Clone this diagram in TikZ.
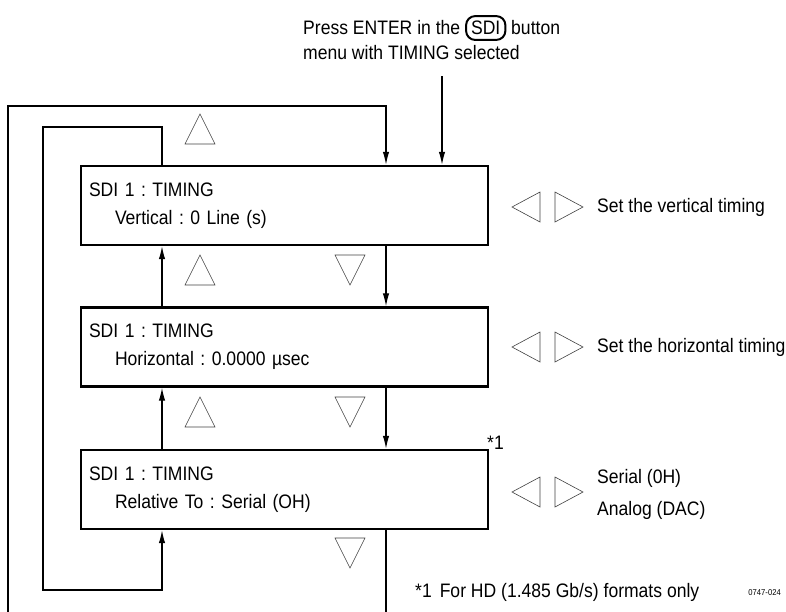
\documentclass[tikz,border=0pt]{standalone}
\usepackage{fontspec}
\setmainfont[FakeStretch=0.9]{Liberation Sans}
\usetikzlibrary{arrows.meta}
\frenchspacing
\tikzset{
  menubox/.style={draw, line width=2.4pt, minimum width=407pt, minimum height=79pt,
    text width=391pt, inner xsep=8pt, inner ysep=0pt, align=left,
    font=\fontsize{19.5}{28}\selectfont},
  conn/.style={line width=1.2pt, -{Latex[length=13pt,width=6.5pt]}},
  tri/.style={draw=black!75, line width=0.6pt},
  lbl/.style={font=\fontsize{19.5}{25}\selectfont, inner sep=0pt, align=left},
}
\newcommand\uptri[2]{\draw[tri] (#1-15,#2+15) -- (#1,#2-15) -- (#1+15,#2+15) -- cycle;}
\newcommand\dntri[2]{\draw[tri] (#1-15,#2-15) -- (#1,#2+15) -- (#1+15,#2-15) -- cycle;}
\newcommand\lrtri[2]{\draw[tri] (#1-35.5,#2) -- (#1-7.5,#2-15) -- (#1-7.5,#2+15) -- cycle;
  \draw[tri] (#1+35.5,#2) -- (#1+7.5,#2-15) -- (#1+7.5,#2+15) -- cycle;}
\begin{document}
\begin{tikzpicture}[x=1pt,y=-1pt]
\useasboundingbox (0,0) rectangle (786,611);
\clip (0,0) rectangle (786,611);

% boxes
\node[menubox] (b1) at (284.5,205.5) {SDI 1 : TIMING\\\hspace*{26pt}Vertical : 0 Line (s)};
\node[menubox] (b2) at (284.5,347) {SDI 1 : TIMING\\\hspace*{26pt}Horizontal : 0.0000 µsec};
\node[menubox] (b3) at (284.5,489.5) {SDI 1 : TIMING\\\hspace*{26pt}Relative To : Serial (OH)};

% top label
\node[lbl, anchor=west] (top) at (303,37.5) {Press ENTER in the
  \tikz[baseline=(s.base)]\node[draw, line width=2pt, rounded corners=9pt, inner xsep=5pt, inner ysep=5pt] (s) {SDI};
  button\\menu with TIMING selected};

% coordinates
\coordinate (entry) at (442,76);
\coordinate (xr) at (386,0);
\coordinate (xl) at (162,0);

% entry arrow
\draw[conn] (entry) -- (entry |- b1.north);

% vertical connectors between boxes
\draw[conn] (b1.south -| xr) -- (b2.north -| xr);
\draw[conn] (b2.south -| xr) -- (b3.north -| xr);
\draw[conn] (b2.north -| xl) -- (b1.south -| xl);
\draw[conn] (b3.north -| xl) -- (b2.south -| xl);

% outer loop (bottom of box 3 back to box 1)
\draw[conn] (b3.south -| xr) -- (386,625) -- (8,625) -- (8,106) -- (386,106) -- (b1.north -| xr);

% inner loop (top of box 1 to bottom of box 3)
\draw[conn] (b1.north -| xl) -- (162,127) -- (43,127) -- (43,590) -- (162,590) -- (b3.south -| xl);

% up / down triangles
\uptri{200}{129}
\uptri{200}{270}
\dntri{350}{270}
\uptri{200}{412}
\dntri{350}{412}
\dntri{350}{553}

% left/right triangles
\lrtri{547.5}{207}
\lrtri{547.5}{347}
\lrtri{547.5}{492}

% side labels
\node[lbl, anchor=west] (t1) at (597,207) {Set the vertical timing};
\node[lbl, anchor=west] (t2) at (597,347) {Set the horizontal timing};
\node[lbl, anchor=west] (t3) at (597,494) {Serial (0H)\\[7pt]Analog (DAC)};

% footnote marks
\node[lbl, anchor=south west] (star) at (487,450) {*1};
\node[lbl, anchor=west] (fn) at (415,592) {*1\hspace{8pt}For HD (1.485 Gb/s) formats only};
\node[anchor=east, inner sep=0pt, font=\fontsize{8.5}{8}\selectfont] (code) at (781,593) {0747-024};
\end{tikzpicture}
\end{document}
